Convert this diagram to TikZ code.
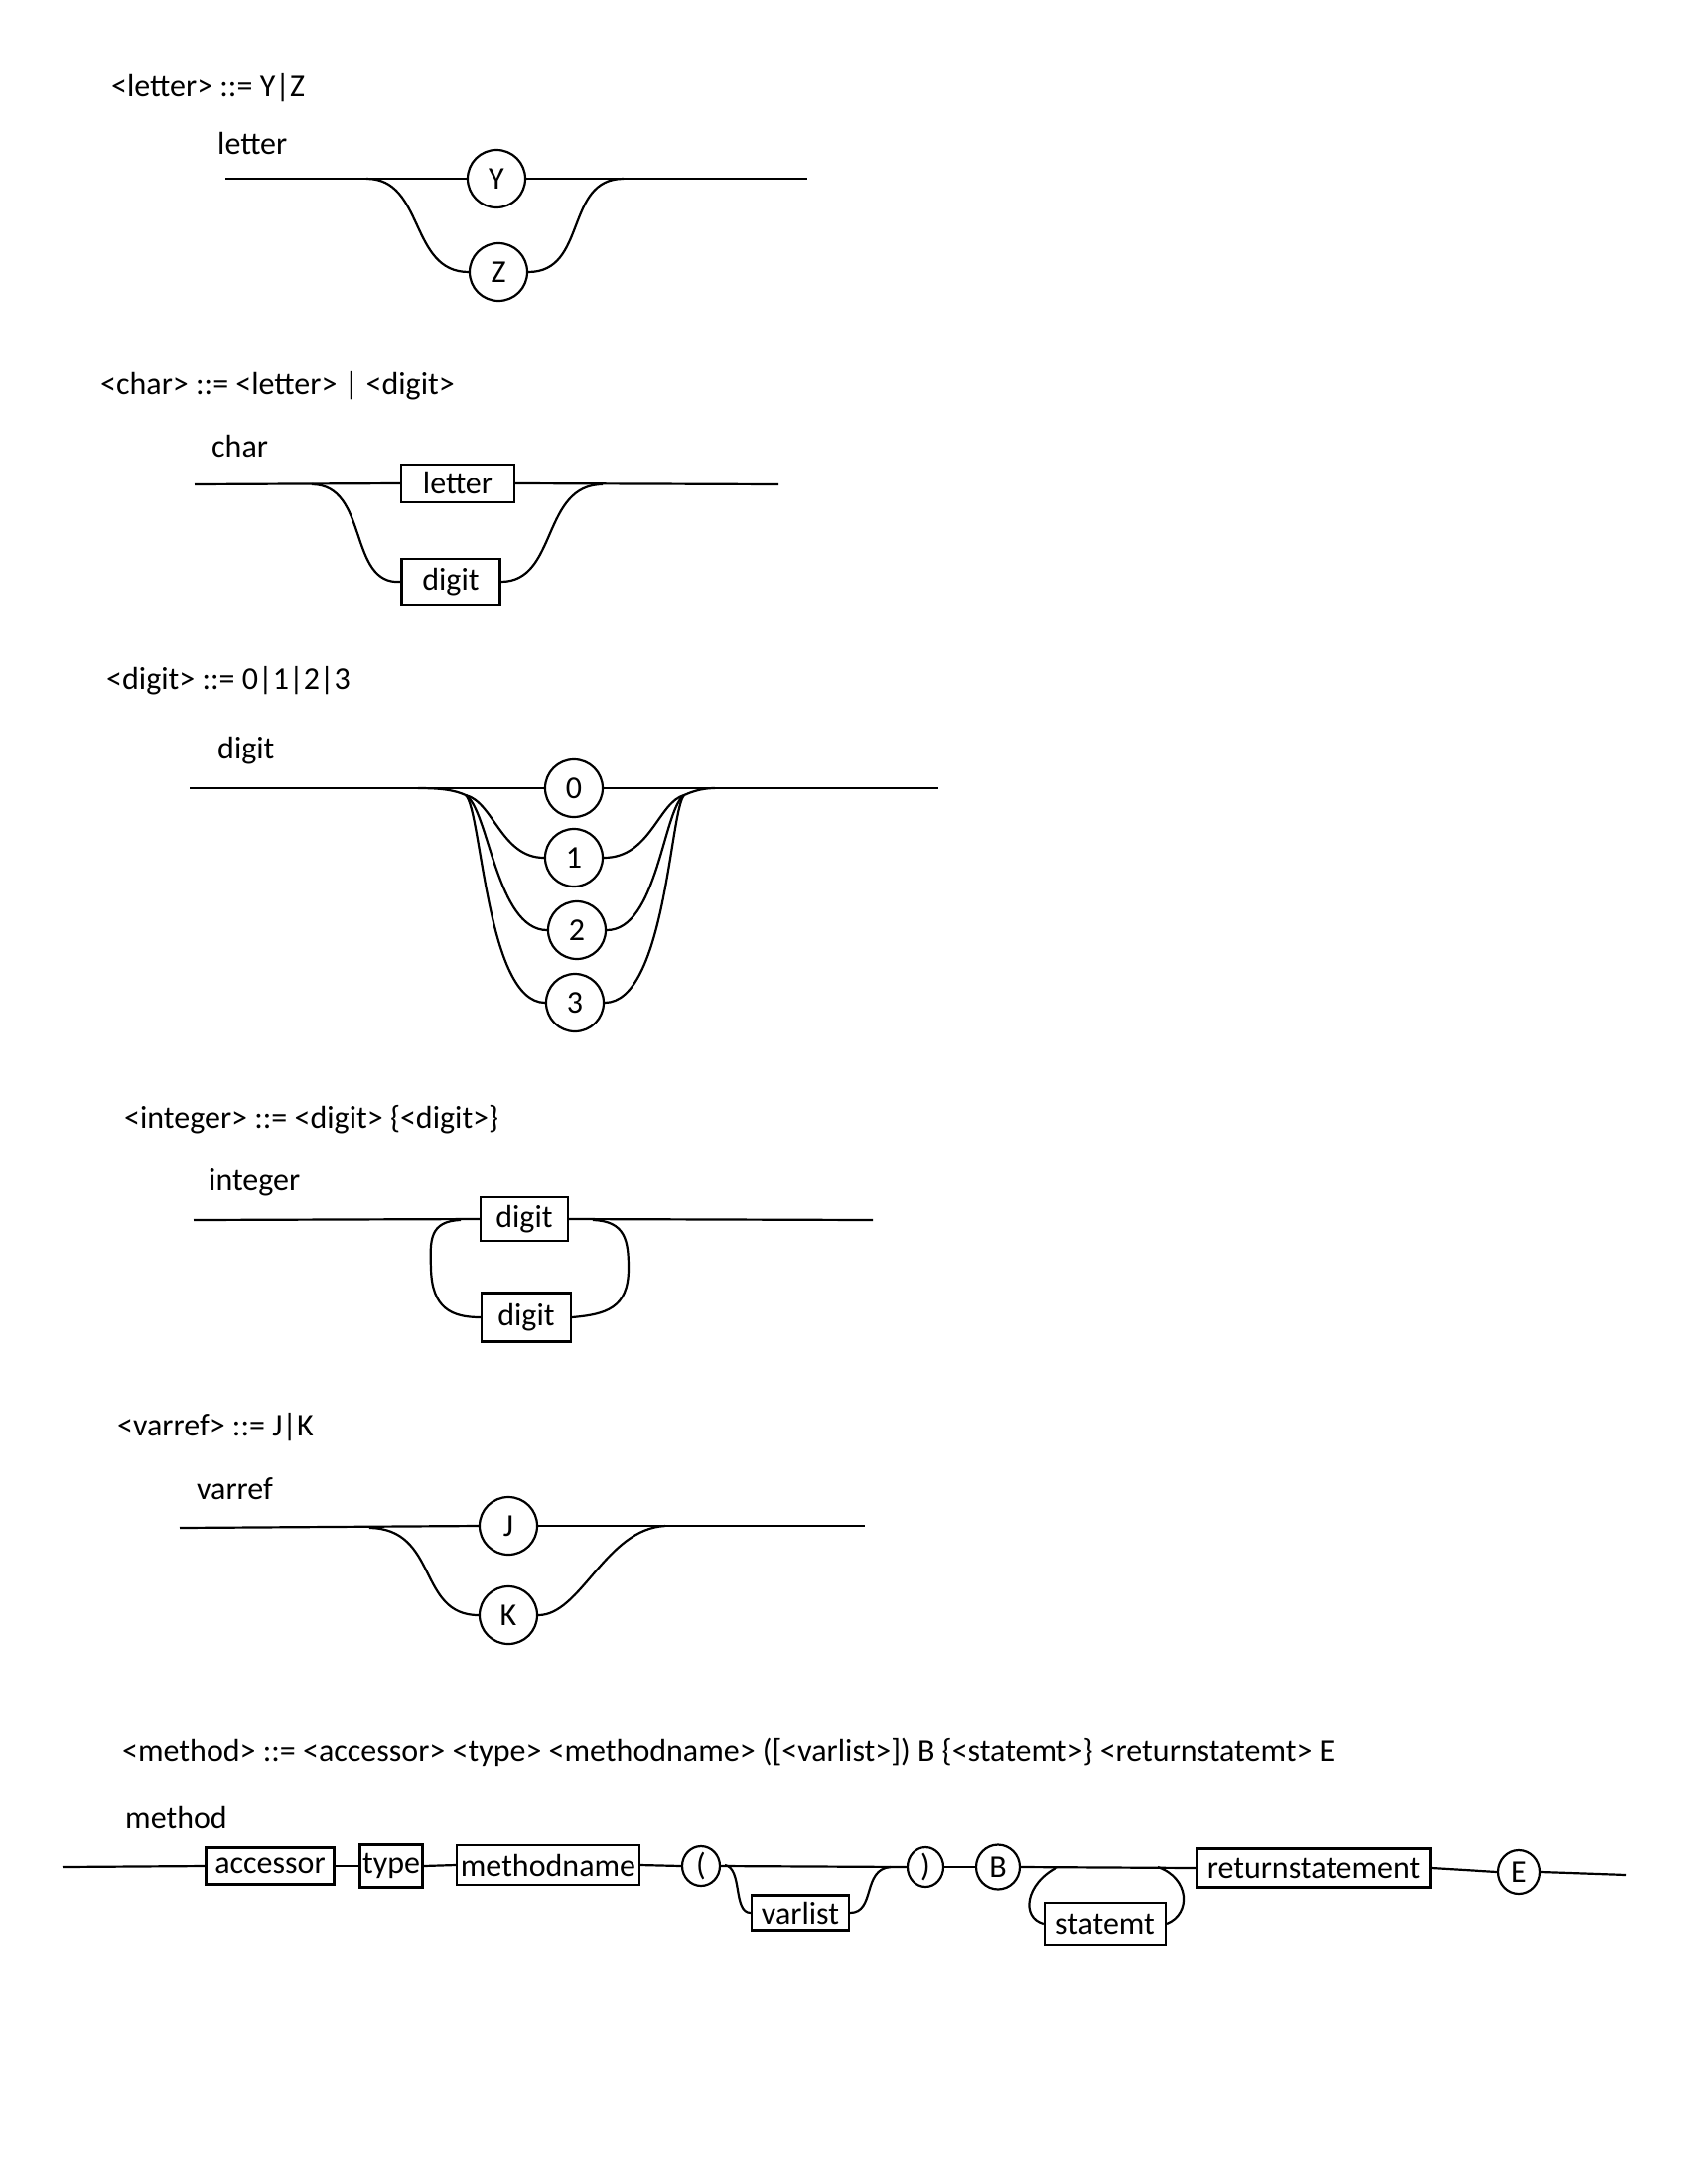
\documentclass[tikz,border=0pt]{standalone}
\usepackage{fontspec}
\setmainfont{Carlito}
\usetikzlibrary{shapes.geometric}
\newcommand{\dfont}{\fontsize{32pt}{38pt}\selectfont}
\tikzset{
  txt/.style={font=\dfont, inner sep=0pt, anchor=base west},
  box/.style={draw, line width=2.2pt, font=\dfont, inner sep=0pt},
  circ/.style={draw, ellipse, line width=2.2pt, inner sep=0pt, minimum width=58pt, minimum height=58pt, font=\dfont},
  wire/.style={line width=2.2pt},
}
\begin{document}
\begin{tikzpicture}[x=1pt,y=-1pt]
\fill[white] (0,0) rectangle (1700,2200);
\useasboundingbox (0,0) rectangle (1700,2200);

% ---------- letter ----------
\node[txt] (t1) at (112,97) {<letter> ::= Y|Z};
\node[txt] (l1) at (219,155) {letter};
\node[circ] (Y) at (500,180) {Y};
\node[circ] (Z) at (502,274) {Z};
\coordinate (s1) at (227,180); \coordinate (e1) at (813,180);
\coordinate (b1) at (369,180); \coordinate (r1) at (628,180);
\draw[wire] (s1) -- (Y.west);
\draw[wire] (Y.east) -- (e1);
\draw[wire] (b1) .. controls (428,180) and (412,274) .. (Z.west);
\draw[wire] (Z.east) .. controls (592,274) and (568,180) .. (r1);

% ---------- char ----------
\node[txt] (t2) at (101,397) {<char> ::= <letter> | <digit>};
\node[txt] (l2) at (213,460) {char};
\node[box, minimum width=114pt, minimum height=38pt] (bl) at (461,487) {letter};
\node[box, minimum width=99pt, minimum height=46pt] (bd) at (454,586) {digit};
\coordinate (s2) at (196,488); \coordinate (e2) at (784,488);
\coordinate (b2) at (314,488); \coordinate (r2) at (607,488);
\draw[wire] (s2) -- (bl.west);
\draw[wire] (bl.east) -- (e2);
\draw[wire] (b2) .. controls (372,488) and (350,590) .. (bd.west);
\draw[wire] (bd.east) .. controls (562,586) and (545,488) .. (r2);

% ---------- digit ----------
\node[txt] (t3) at (107,694) {<digit> ::= 0|1|2|3};
\node[txt] (l3) at (219,764) {digit};
\node[circ] (c0) at (578,794) {0};
\node[circ] (c1) at (578,864) {1};
\node[circ] (c2) at (581,937) {2};
\node[circ] (c3) at (579,1010) {3};
\coordinate (s3) at (191,794); \coordinate (e3) at (945,794);
\coordinate (S) at (421,794); \coordinate (P) at (469,801);
\coordinate (Q) at (689,801); \coordinate (T) at (720,794);
\draw[wire] (s3) -- (c0.west);
\draw[wire] (c0.east) -- (e3);
\draw[wire] (S) .. controls (445,794) and (458,796) .. (P);
\draw[wire] (P) .. controls (497,808) and (505,864) .. (c1.west);
\draw[wire] (P) .. controls (492,815) and (500,937) .. (c2.west);
\draw[wire] (P) .. controls (485,815) and (490,1010) .. (c3.west);
\draw[wire] (c1.east) .. controls (655,864) and (663,808) .. (Q);
\draw[wire] (c2.east) .. controls (662,937) and (668,815) .. (Q);
\draw[wire] (c3.east) .. controls (670,1010) and (675,815) .. (Q);
\draw[wire] (Q) .. controls (700,796) and (710,794) .. (T);

% ---------- integer ----------
\node[txt] (t4) at (125,1136) {<integer> ::= <digit> \{<digit>\}};
\node[txt] (l4) at (210,1199) {integer};
\node[box, minimum width=88pt, minimum height=44pt] (d1) at (528,1228) {digit};
\node[box, minimum width=90pt, minimum height=49pt] (d2) at (530,1327) {digit};
\coordinate (s4) at (195,1229); \coordinate (e4) at (879,1229);
\coordinate (b4) at (464,1229); \coordinate (r4) at (597,1229);
\draw[wire] (s4) -- (d1.west);
\draw[wire] (d1.east) -- (e4);
\draw[wire] (b4) .. controls (432,1230) and (433,1250) .. (434,1278)
                 .. controls (435,1318) and (455,1327) .. (d2.west);
\draw[wire] (r4) .. controls (630,1230) and (633,1250) .. (633,1278)
                 .. controls (633,1318) and (610,1324) .. (d2.east);

% ---------- varref ----------
\node[txt] (t5) at (118,1446) {<varref> ::= J|K};
\node[txt] (l5) at (198,1510) {varref};
\node[circ] (J) at (512,1537) {J};
\node[circ] (K) at (512,1627) {K};
\coordinate (s5) at (181,1539); \coordinate (e5) at (871,1537);
\coordinate (b5) at (372,1539); \coordinate (r5) at (670,1537);
\draw[wire] (s5) -- (J.west);
\draw[wire] (J.east) -- (e5);
\draw[wire] (b5) .. controls (442,1540) and (420,1627) .. (K.west);
\draw[wire] (K.east) .. controls (585,1627) and (610,1540) .. (r5);

% ---------- method ----------
\node[txt] (t6) at (123,1774) {<method> ::= <accessor> <type> <methodname> ([<varlist>]) B \{<statemt>\} <returnstatemt> E};
\node[txt] (l6) at (126,1841) {method};
\node[box, minimum width=129pt, minimum height=37pt] (acc) at (272,1880) {accessor};
\node[box, minimum width=63pt, minimum height=43pt] (typ) at (394,1880) {type};
\node[box, minimum width=184pt, minimum height=40pt] (mn) at (552,1879) {methodname};
\node[circ, minimum width=38pt, minimum height=40pt] (lp) at (706,1880) {(};
\node[box, minimum width=98pt, minimum height=35pt] (vl) at (806,1927) {varlist};
\node[circ, minimum width=36pt, minimum height=40pt] (rp) at (932,1881) {)};
\node[circ, minimum width=44pt, minimum height=45pt] (B) at (1005,1881) {B};
\node[box, minimum width=122pt, minimum height=42pt] (st) at (1113,1938) {statemt};
\node[box, minimum width=235pt, minimum height=39pt] (rs) at (1323,1882) {returnstatement};
\node[circ, minimum width=42pt, minimum height=44pt] (E) at (1530,1886) {E};
\coordinate (s6) at (63,1881); \coordinate (e6) at (1638,1889);
\coordinate (v0) at (730,1879); \coordinate (v1) at (897,1881);
\coordinate (w0) at (1065,1881); \coordinate (w1) at (1166,1881);
\draw[wire] (s6) -- (acc.west);
\draw[wire] (acc.east) -- (typ.west);
\draw[wire] (typ.east) -- (mn.west);
\draw[wire] (mn.east) -- (lp.west);
\draw[wire] (lp.east) -- (rp.west);
\draw[wire] (rp.east) -- (B.west);
\draw[wire] (B.east) -- (rs.west);
\draw[wire] (rs.east) -- (E.west);
\draw[wire] (E.east) -- (e6);
\draw[wire] (v0) .. controls (748,1882) and (738,1927) .. (vl.west);
\draw[wire] (vl.east) .. controls (882,1927) and (868,1883) .. (v1);
\draw[wire] (w0) .. controls (1032,1898) and (1028,1932) .. (st.west);
\draw[wire] (w1) .. controls (1198,1892) and (1200,1928) .. (st.east);
\end{tikzpicture}
\end{document}
